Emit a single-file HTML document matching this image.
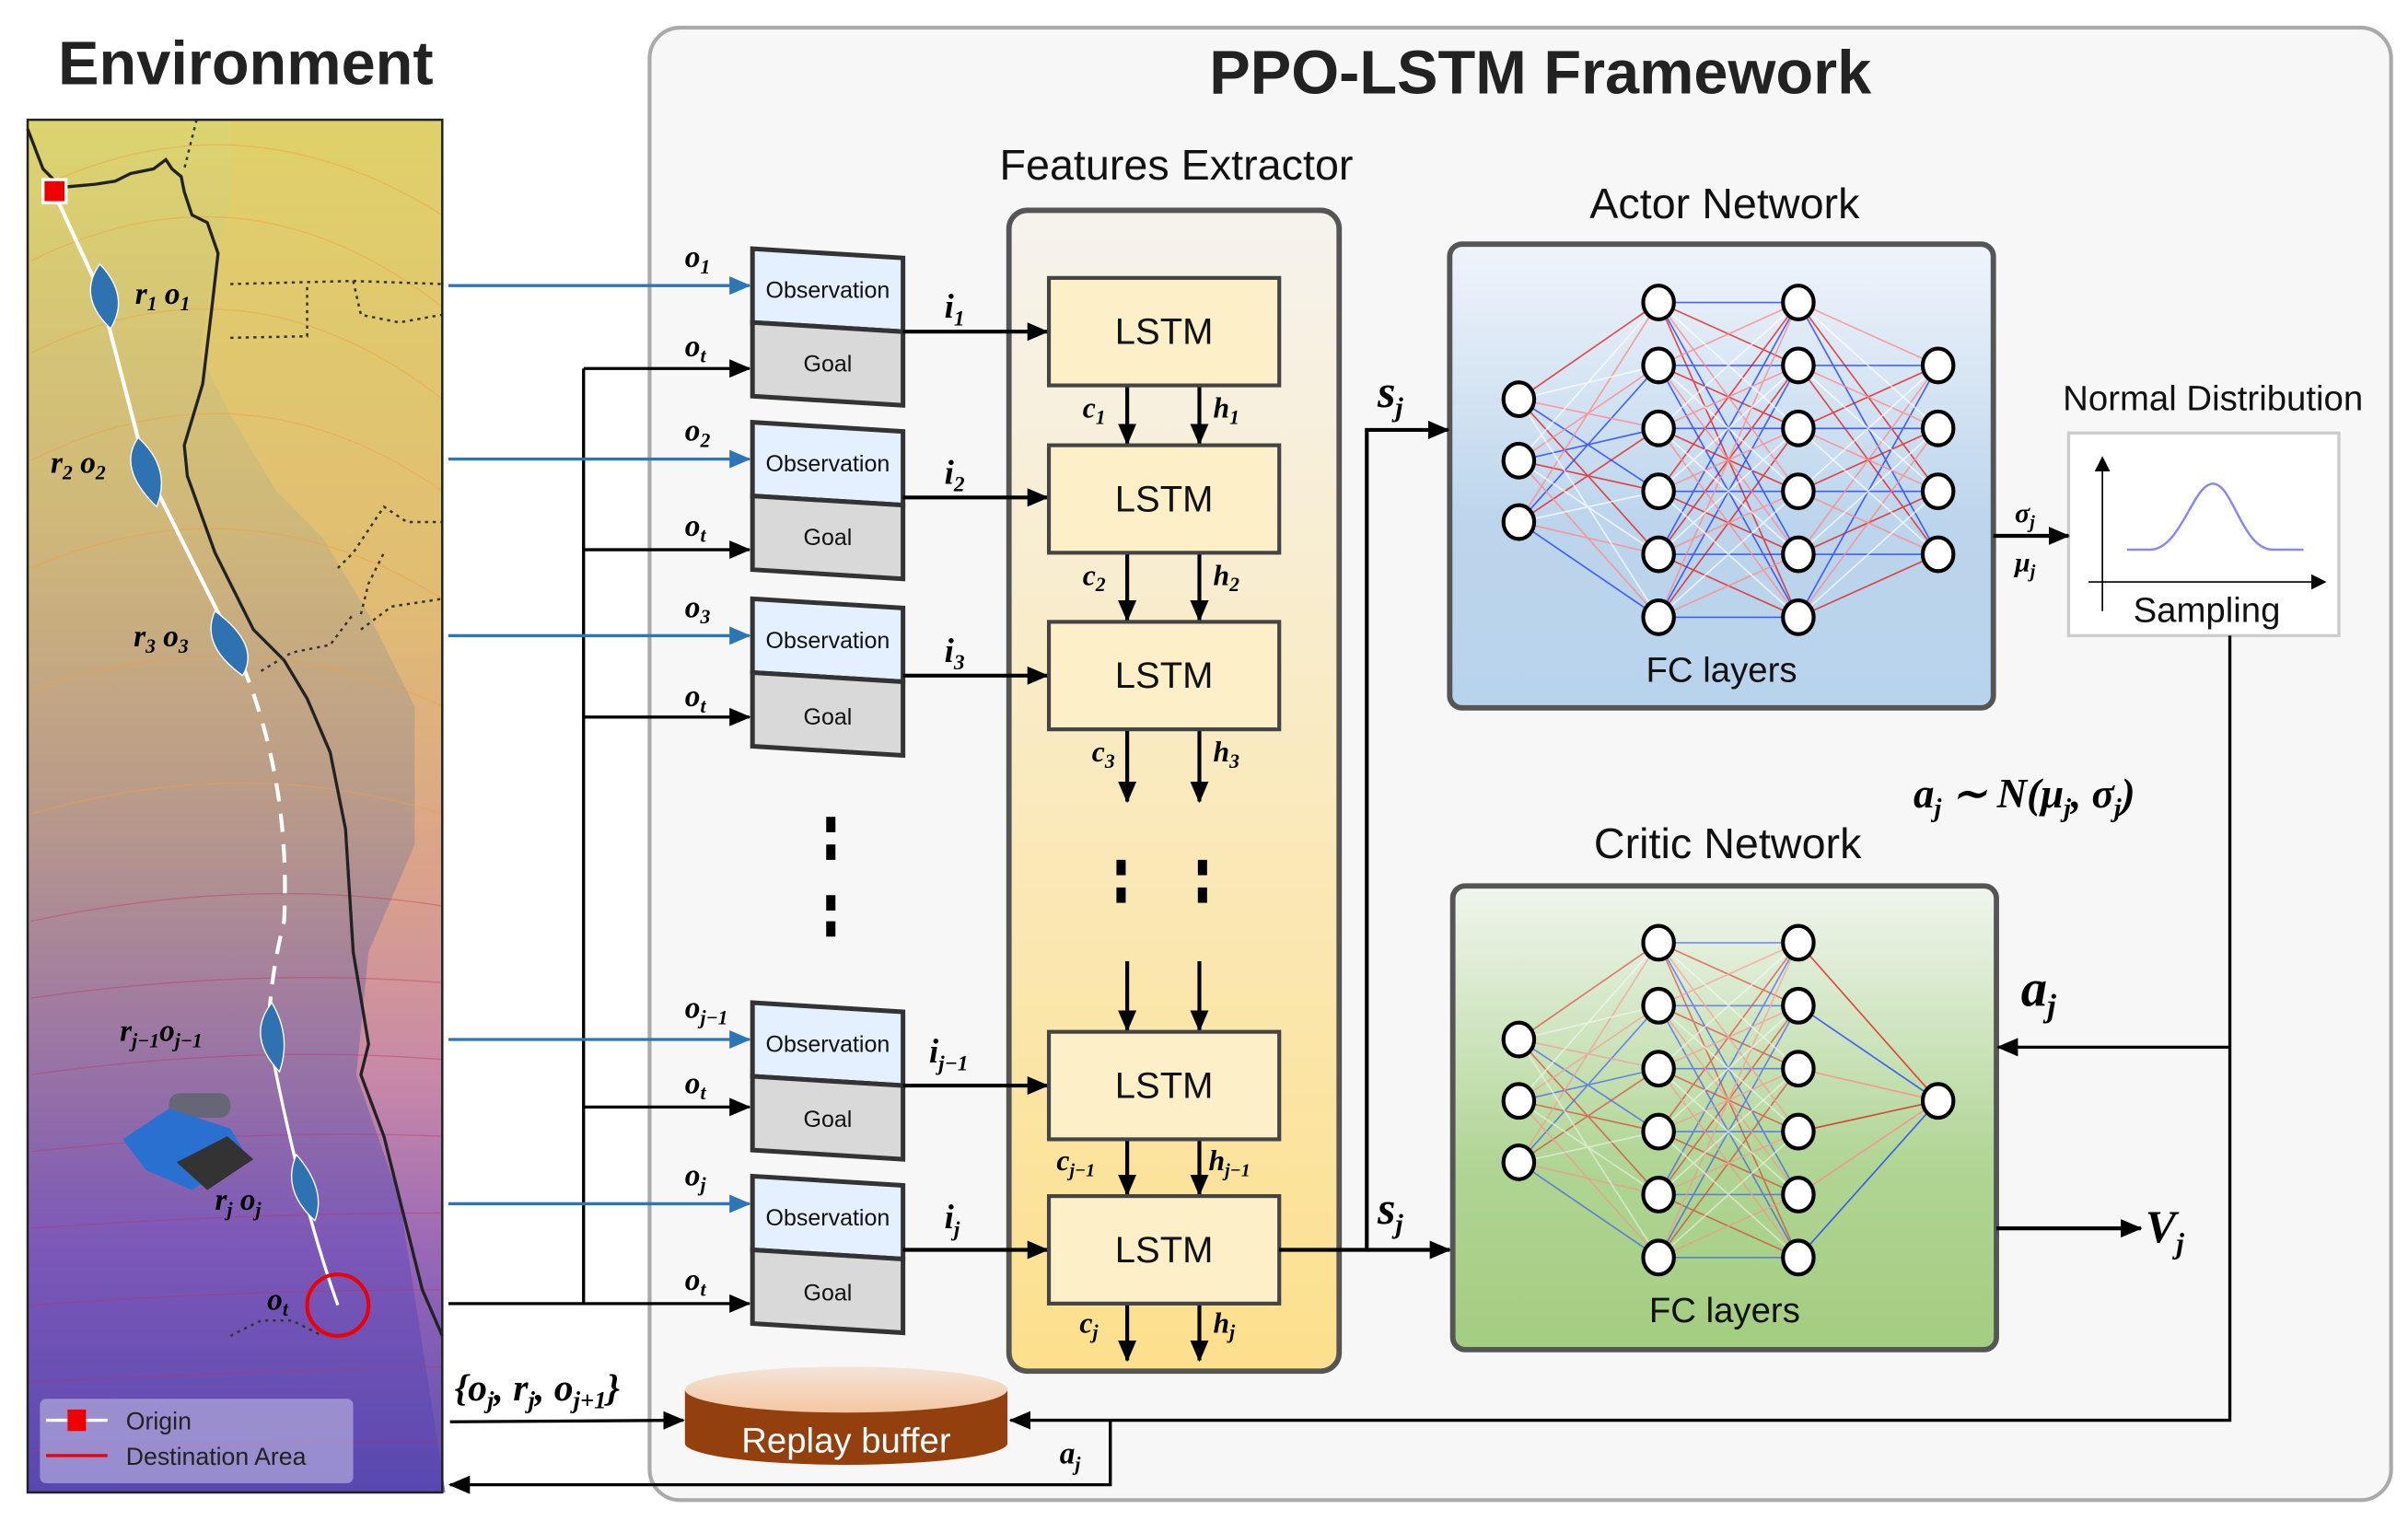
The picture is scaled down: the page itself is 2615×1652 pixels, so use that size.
<!DOCTYPE html>
<html><head><meta charset="utf-8"><style>
html,body{margin:0;padding:0;background:#fff;}
svg{display:block;}
.s{font-family:"Liberation Sans",sans-serif;}
.m{font-family:"Liberation Serif",serif;font-style:italic;font-weight:bold;}
.ob{fill:#e4f0ff;stroke:#333;stroke-width:3;}
.go{fill:#d9d9d9;stroke:#333;stroke-width:3;}
.ls{fill:#fdefc8;stroke:#444;stroke-width:2.5;}
.nd{fill:#fff;stroke:#000;stroke-width:2.5;}
</style></head><body>
<svg width="2615" height="1652" viewBox="0 0 1568 990.6" preserveAspectRatio="none" xmlns="http://www.w3.org/2000/svg">
<defs>
<linearGradient id="map" x1="0" y1="0" x2="0" y2="1">
<stop offset="0" stop-color="#dcd470"/><stop offset="0.3" stop-color="#cfb77a"/><stop offset="0.5" stop-color="#b99a8a"/><stop offset="0.65" stop-color="#a07ba0"/><stop offset="0.82" stop-color="#7c58b8"/><stop offset="1" stop-color="#5848b0"/>
</linearGradient>
<linearGradient id="mapR" x1="0" y1="0" x2="0" y2="1">
<stop offset="0" stop-color="#e0d068"/><stop offset="0.35" stop-color="#e8c070"/><stop offset="0.55" stop-color="#e8a888"/><stop offset="0.7" stop-color="#d890a8"/><stop offset="0.85" stop-color="#9868b8"/><stop offset="1" stop-color="#6050b0"/>
</linearGradient>
<linearGradient id="fe" x1="0" y1="0" x2="0" y2="1"><stop offset="0" stop-color="#f6f3ee"/><stop offset="1" stop-color="#fde08c"/></linearGradient>
<linearGradient id="act" x1="0" y1="0" x2="0" y2="1"><stop offset="0" stop-color="#f0f4fb"/><stop offset="0.6" stop-color="#bcd5ec"/><stop offset="1" stop-color="#b8d3ec"/></linearGradient>
<linearGradient id="cri" x1="0" y1="0" x2="0" y2="1"><stop offset="0" stop-color="#f0f5ee"/><stop offset="0.6" stop-color="#b0d594"/><stop offset="1" stop-color="#a3cd80"/></linearGradient>
<linearGradient id="cyl" x1="0" y1="0" x2="0" y2="1"><stop offset="0" stop-color="#f4e4d8"/><stop offset="1" stop-color="#f5c7a3"/></linearGradient>
<marker id="ak" markerWidth="10" markerHeight="10" refX="9" refY="5" orient="auto" markerUnits="userSpaceOnUse"><path d="M0,0 L10,5 L0,10 Z" fill="#000"/></marker>
<marker id="ab" markerWidth="14" markerHeight="12" refX="13" refY="6" orient="auto" markerUnits="userSpaceOnUse"><path d="M0,0 L14,6 L0,12 Z" fill="#000"/></marker>
<marker id="abl" markerWidth="14" markerHeight="12" refX="13" refY="6" orient="auto" markerUnits="userSpaceOnUse"><path d="M0,0 L14,6 L0,12 Z" fill="#2e75b6"/></marker>
</defs>

<!-- Environment -->
<text x="160" y="55" class="s" font-size="40" font-weight="bold" text-anchor="middle" fill="#222">Environment</text>
<rect x="18" y="78" width="270" height="894" fill="url(#map)"/>
<path d="M150,78 L288,78 L288,972 L290,972 L260,780 L232,700 L240,620 L270,550 L270,460 L240,400 L210,350 L180,320 L150,270 L130,230 L140,170 L150,130 Z" fill="url(#mapR)" opacity="0.75"/>
<g fill="none" stroke="#f0a040" stroke-width="0.8" opacity="0.5">
<path d="M30,120 Q160,60 288,140"/><path d="M20,170 Q160,100 288,200"/><path d="M20,230 Q160,160 288,260"/><path d="M20,300 Q160,230 288,320"/><path d="M20,370 Q160,310 288,390"/><path d="M20,450 Q160,400 288,460"/><path d="M20,530 Q160,490 288,530"/>
</g>
<g fill="none" stroke="#c03060" stroke-width="0.8" opacity="0.4">
<path d="M20,600 Q160,570 288,590"/><path d="M20,650 Q160,630 288,640"/><path d="M20,700 Q160,680 288,690"/><path d="M20,750 Q160,735 288,740"/><path d="M20,800 Q160,790 288,790"/><path d="M20,850 Q160,840 288,840"/><path d="M20,900 Q160,893 288,890"/><path d="M20,945 Q160,940 288,938"/>
</g>
<path d="M18,84 L28,110 L40,122 L62,120 L75,118 L85,113 L100,110 L108,104 L112,110 L118,115 L120,125 L125,140 L135,145 L142,165 L138,200 L132,250 L120,290 L122,310 L140,360 L165,410 L185,430 L200,455 L215,490 L225,540 L230,620 L240,680 L235,700 L250,740 L265,800 L275,840 L288,870" fill="none" stroke="#222" stroke-width="2"/>
<g fill="none" stroke="#333" stroke-width="1.5" stroke-dasharray="2,3">
<path d="M128,78 L125,90 L120,110"/><path d="M150,185 L230,183 L288,185"/><path d="M150,220 L200,219 L200,185"/><path d="M230,183 L235,205 L260,210 L288,205"/><path d="M220,370 L230,360 L250,330 L265,340 L288,340"/><path d="M235,400 L240,380 L250,360"/><path d="M235,410 L255,395 L288,390"/><path d="M170,437 L190,425 L215,420 L230,400"/><path d="M150,870 L170,860 L190,860 L210,870"/>
</g>
<path d="M35,125 L65,190 L95,305 L150,415" fill="none" stroke="#fff" stroke-width="2.5"/>
<path d="M150,415 Q190,500 185,600 Q175,640 175,675" fill="none" stroke="#fff" stroke-width="2.5" stroke-dasharray="12,8"/>
<path d="M175,675 Q195,780 220,850" fill="none" stroke="#fff" stroke-width="2"/>
<g fill="#2e72b2" stroke="#fff" stroke-width="0.8">
<path d="M65,172 Q50,193 72,214 Q85,193 65,172 Z"/>
<path d="M90,285 Q76,305 102,330 Q112,305 90,285 Z"/>
<path d="M140,398 Q130,420 158,440 Q170,420 140,398 Z"/>
<path d="M177,653 Q160,675 182,698 Q190,675 177,653 Z"/>
<path d="M193,752 Q183,775 205,795 Q213,775 193,752 Z"/>
</g>
<rect x="28" y="117" width="15" height="15" fill="#e00" stroke="#fff" stroke-width="2"/>
<circle cx="220" cy="850" r="20" fill="none" stroke="#e00" stroke-width="2.5"/>
<g>
<rect x="110" y="712" width="40" height="16" rx="7" fill="#667"/>
<path d="M80,742 L110,722 L150,735 L160,752 L125,775 L95,762 Z" fill="#2a70d0"/>
<path d="M115,757 L148,740 L165,755 L135,775 Z" fill="#333"/>
</g>
<text class="m" font-size="20" x="88" y="198">r<tspan font-size="13" dy="4">1</tspan><tspan dy="-4"> o</tspan><tspan font-size="13" dy="4">1</tspan></text>
<text class="m" font-size="20" x="33" y="308">r<tspan font-size="13" dy="4">2</tspan><tspan dy="-4"> o</tspan><tspan font-size="13" dy="4">2</tspan></text>
<text class="m" font-size="20" x="87" y="421">r<tspan font-size="13" dy="4">3</tspan><tspan dy="-4"> o</tspan><tspan font-size="13" dy="4">3</tspan></text>
<text class="m" font-size="20" x="78" y="678">r<tspan font-size="13" dy="4">j−1</tspan><tspan dy="-4">o</tspan><tspan font-size="13" dy="4">j−1</tspan></text>
<text class="m" font-size="20" x="140" y="788">r<tspan font-size="13" dy="4">j</tspan><tspan dy="-4"> o</tspan><tspan font-size="13" dy="4">j</tspan></text>
<text class="m" font-size="20" x="174" y="853">o<tspan font-size="13" dy="4">t</tspan></text>
<rect x="26" y="911" width="204" height="55" rx="4" fill="#c8c4e8" opacity="0.55"/>
<line x1="30" y1="925" x2="70" y2="925" stroke="#fff" stroke-width="2"/><rect x="44" y="918" width="12" height="14" fill="#e00"/>
<line x1="30" y1="948" x2="70" y2="948" stroke="#e00" stroke-width="2"/>
<text class="s" font-size="16" x="82" y="931" fill="#222">Origin</text>
<text class="s" font-size="16" x="82" y="954" fill="#222">Destination Area</text>
<rect x="18" y="78" width="270" height="894" fill="none" stroke="#222" stroke-width="1.5"/>

<!-- Framework -->
<rect x="423" y="18" width="1134" height="959" rx="20" fill="#f7f7f7" stroke="#aaa" stroke-width="2.5"/>
<text x="1003" y="61" class="s" font-size="40" font-weight="bold" text-anchor="middle" fill="#222">PPO-LSTM Framework</text>
<text x="766" y="117" class="s" font-size="28" text-anchor="middle" fill="#111">Features Extractor</text>
<rect x="657" y="137" width="215" height="756" rx="12" fill="url(#fe)" stroke="#555" stroke-width="3.5"/>

<g stroke="#000" stroke-width="2" fill="none">
<line x1="380" y1="240" x2="380" y2="849"/>
<line x1="292" y1="849" x2="488" y2="849" marker-end="url(#ab)"/>
<line x1="380" y1="240" x2="488" y2="240" marker-end="url(#ab)"/>
<line x1="380" y1="358" x2="488" y2="358" marker-end="url(#ab)"/>
<line x1="380" y1="467" x2="488" y2="467" marker-end="url(#ab)"/>
<line x1="380" y1="721" x2="488" y2="721" marker-end="url(#ab)"/>
</g>
<g stroke="#2e75b6" stroke-width="2" fill="none">
<line x1="292" y1="186" x2="488" y2="186" marker-end="url(#abl)"/>
<line x1="292" y1="299" x2="488" y2="299" marker-end="url(#abl)"/>
<line x1="292" y1="414" x2="488" y2="414" marker-end="url(#abl)"/>
<line x1="292" y1="677" x2="488" y2="677" marker-end="url(#abl)"/>
<line x1="292" y1="784" x2="488" y2="784" marker-end="url(#abl)"/>
</g>

<!-- Observation / Goal -->
<path class="ob" d="M490,162 L588,168 L588,216 L490,210 Z"/><path class="go" d="M490,210 L588,216 L588,264 L490,258 Z"/>
<path class="ob" d="M490,275 L588,281 L588,329 L490,323 Z"/><path class="go" d="M490,323 L588,329 L588,377 L490,371 Z"/>
<path class="ob" d="M490,390 L588,396 L588,444 L490,438 Z"/><path class="go" d="M490,438 L588,444 L588,492 L490,486 Z"/>
<path class="ob" d="M490,653 L588,659 L588,707 L490,701 Z"/><path class="go" d="M490,701 L588,707 L588,755 L490,749 Z"/>
<path class="ob" d="M490,766 L588,772 L588,820 L490,814 Z"/><path class="go" d="M490,814 L588,820 L588,868 L490,862 Z"/>
<g class="s" font-size="15" text-anchor="middle" fill="#111">
<text x="539" y="194">Observation</text><text x="539" y="242">Goal</text>
<text x="539" y="307">Observation</text><text x="539" y="355">Goal</text>
<text x="539" y="422">Observation</text><text x="539" y="472">Goal</text>
<text x="539" y="685">Observation</text><text x="539" y="734">Goal</text>
<text x="539" y="798">Observation</text><text x="539" y="847">Goal</text>
</g>
<g class="m" font-size="20">
<text x="446" y="174">o<tspan font-size="13" dy="4">1</tspan></text><text x="446" y="232">o<tspan font-size="13" dy="4">t</tspan></text>
<text x="446" y="287">o<tspan font-size="13" dy="4">2</tspan></text><text x="446" y="349">o<tspan font-size="13" dy="4">t</tspan></text>
<text x="446" y="402">o<tspan font-size="13" dy="4">3</tspan></text><text x="446" y="460">o<tspan font-size="13" dy="4">t</tspan></text>
<text x="446" y="663">o<tspan font-size="13" dy="4">j−1</tspan></text><text x="446" y="712">o<tspan font-size="13" dy="4">t</tspan></text>
<text x="446" y="772">o<tspan font-size="13" dy="4">j</tspan></text><text x="446" y="840">o<tspan font-size="13" dy="4">t</tspan></text>
</g>

<!-- i arrows -->
<g stroke="#000" stroke-width="2.5" fill="none">
<line x1="588" y1="216" x2="682" y2="216" marker-end="url(#ab)"/>
<line x1="588" y1="324" x2="682" y2="324" marker-end="url(#ab)"/>
<line x1="588" y1="440" x2="682" y2="440" marker-end="url(#ab)"/>
<line x1="588" y1="707" x2="682" y2="707" marker-end="url(#ab)"/>
<line x1="588" y1="814" x2="682" y2="814" marker-end="url(#ab)"/>
<line x1="734" y1="251" x2="734" y2="289" marker-end="url(#ab)"/><line x1="781" y1="251" x2="781" y2="289" marker-end="url(#ab)"/>
<line x1="734" y1="360" x2="734" y2="404" marker-end="url(#ab)"/><line x1="781" y1="360" x2="781" y2="404" marker-end="url(#ab)"/>
<line x1="734" y1="475" x2="734" y2="522" marker-end="url(#ab)"/><line x1="781" y1="475" x2="781" y2="522" marker-end="url(#ab)"/>
<line x1="734" y1="626" x2="734" y2="671" marker-end="url(#ab)"/><line x1="781" y1="626" x2="781" y2="671" marker-end="url(#ab)"/>
<line x1="734" y1="742" x2="734" y2="778" marker-end="url(#ab)"/><line x1="781" y1="742" x2="781" y2="778" marker-end="url(#ab)"/>
<line x1="734" y1="849" x2="734" y2="886" marker-end="url(#ab)"/><line x1="781" y1="849" x2="781" y2="886" marker-end="url(#ab)"/>
</g>
<g class="m" font-size="22">
<text x="615" y="207">i<tspan font-size="14" dy="5">1</tspan></text>
<text x="615" y="315">i<tspan font-size="14" dy="5">2</tspan></text>
<text x="615" y="431">i<tspan font-size="14" dy="5">3</tspan></text>
<text x="605" y="692">i<tspan font-size="14" dy="5">j−1</tspan></text>
<text x="615" y="800">i<tspan font-size="14" dy="5">j</tspan></text>
</g>
<rect class="ls" x="683" y="181" width="150" height="70"/>
<rect class="ls" x="683" y="290" width="150" height="70"/>
<rect class="ls" x="683" y="405" width="150" height="70"/>
<rect class="ls" x="683" y="672" width="150" height="70"/>
<rect class="ls" x="683" y="779" width="150" height="70"/>
<g class="s" font-size="24" text-anchor="middle" fill="#111">
<text x="758" y="224">LSTM</text><text x="758" y="333">LSTM</text><text x="758" y="448">LSTM</text><text x="758" y="715">LSTM</text><text x="758" y="822">LSTM</text>
</g>
<g class="m" font-size="19">
<text x="705" y="272">c<tspan font-size="13" dy="4">1</tspan></text><text x="790" y="272">h<tspan font-size="13" dy="4">1</tspan></text>
<text x="705" y="381">c<tspan font-size="13" dy="4">2</tspan></text><text x="790" y="381">h<tspan font-size="13" dy="4">2</tspan></text>
<text x="711" y="496">c<tspan font-size="13" dy="4">3</tspan></text><text x="790" y="496">h<tspan font-size="13" dy="4">3</tspan></text>
<text x="688" y="762">c<tspan font-size="12" dy="4">j−1</tspan></text><text x="787" y="762">h<tspan font-size="12" dy="4">j−1</tspan></text>
<text x="703" y="868">c<tspan font-size="13" dy="4">j</tspan></text><text x="790" y="868">h<tspan font-size="13" dy="4">j</tspan></text>
</g>
<g fill="#000"><rect x="538" y="532" width="6" height="10"/><rect x="538" y="550" width="6" height="10"/><rect x="538" y="583" width="6" height="10"/><rect x="538" y="600" width="6" height="10"/>
<rect x="727" y="560" width="6" height="10"/><rect x="727" y="578" width="6" height="10"/><rect x="780" y="560" width="6" height="10"/><rect x="780" y="578" width="6" height="10"/></g>

<!-- Actor -->
<text x="1123" y="142" class="s" font-size="28" text-anchor="middle" fill="#111">Actor Network</text>
<rect x="944" y="159" width="354" height="302" rx="8" fill="url(#act)" stroke="#555" stroke-width="3.5"/>
<g id="e01" fill="none" stroke-width="1">
<path stroke="#e02020" stroke-opacity="0.8" d="M989,260L1080,197M989,260L1080,361M989,300L1080,320M989,340L1080,279"/>
<path stroke="#2040ff" stroke-opacity="0.8" d="M989,260L1080,320M989,300L1080,279M989,340L1080,238M989,340L1080,402"/>
<path stroke="#ff8a8a" stroke-opacity="0.8" d="M989,260L1080,279M989,300L1080,238M989,300L1080,402M989,340L1080,197M989,340L1080,361"/>
<path stroke="#ffffff" stroke-opacity="0.7" d="M989,260L1080,238M989,260L1080,402M989,300L1080,197M989,300L1080,361M989,340L1080,320"/>
</g>
<g id="e12" fill="none" stroke-width="1">
<path stroke="#e02020" stroke-opacity="0.8" d="M1080,197L1171,238M1080,197L1171,402M1080,238L1171,279M1080,279L1171,320M1080,320L1171,197M1080,320L1171,361M1080,361L1171,238M1080,361L1171,402M1080,402L1171,279"/>
<path stroke="#2040ff" stroke-opacity="0.8" d="M1080,197L1171,197M1080,197L1171,361M1080,238L1171,238M1080,238L1171,402M1080,279L1171,279M1080,320L1171,320M1080,361L1171,197M1080,361L1171,361M1080,402L1171,238M1080,402L1171,402"/>
<path stroke="#ff8a8a" stroke-opacity="0.8" d="M1080,197L1171,320M1080,238L1171,197M1080,238L1171,361M1080,279L1171,238M1080,279L1171,402M1080,320L1171,279M1080,361L1171,320M1080,402L1171,197M1080,402L1171,361"/>
<path stroke="#ffffff" stroke-opacity="0.7" d="M1080,197L1171,279M1080,238L1171,320M1080,279L1171,197M1080,279L1171,361M1080,320L1171,238M1080,320L1171,402M1080,361L1171,279M1080,402L1171,320"/>
</g>
<g fill="none" stroke-width="1">
<path stroke="#e02020" stroke-opacity="0.8" d="M1171,197L1262,320M1171,238L1262,361M1171,279L1262,238M1171,320L1262,279M1171,361L1262,320M1171,402L1262,361"/>
<path stroke="#2040ff" stroke-opacity="0.8" d="M1171,197L1262,361M1171,238L1262,238M1171,279L1262,279M1171,320L1262,320M1171,361L1262,361M1171,402L1262,238"/>
<path stroke="#ff8a8a" stroke-opacity="0.8" d="M1171,197L1262,238M1171,238L1262,279M1171,279L1262,320M1171,320L1262,361M1171,361L1262,238M1171,402L1262,279"/>
<path stroke="#ffffff" stroke-opacity="0.7" d="M1171,197L1262,279M1171,238L1262,320M1171,279L1262,361M1171,320L1262,238M1171,361L1262,279M1171,402L1262,320"/>
</g>
<g id="n12">
<ellipse class="nd" cx="989" cy="260" rx="10" ry="11"/><ellipse class="nd" cx="989" cy="300" rx="10" ry="11"/><ellipse class="nd" cx="989" cy="340" rx="10" ry="11"/>
<ellipse class="nd" cx="1080" cy="197" rx="10" ry="11"/><ellipse class="nd" cx="1080" cy="238" rx="10" ry="11"/><ellipse class="nd" cx="1080" cy="279" rx="10" ry="11"/><ellipse class="nd" cx="1080" cy="320" rx="10" ry="11"/><ellipse class="nd" cx="1080" cy="361" rx="10" ry="11"/><ellipse class="nd" cx="1080" cy="402" rx="10" ry="11"/>
<ellipse class="nd" cx="1171" cy="197" rx="10" ry="11"/><ellipse class="nd" cx="1171" cy="238" rx="10" ry="11"/><ellipse class="nd" cx="1171" cy="279" rx="10" ry="11"/><ellipse class="nd" cx="1171" cy="320" rx="10" ry="11"/><ellipse class="nd" cx="1171" cy="361" rx="10" ry="11"/><ellipse class="nd" cx="1171" cy="402" rx="10" ry="11"/>
</g>
<ellipse class="nd" cx="1262" cy="238" rx="10" ry="11"/><ellipse class="nd" cx="1262" cy="279" rx="10" ry="11"/><ellipse class="nd" cx="1262" cy="320" rx="10" ry="11"/><ellipse class="nd" cx="1262" cy="361" rx="10" ry="11"/>
<text x="1121" y="444" class="s" font-size="23" text-anchor="middle" fill="#111">FC layers</text>

<!-- Critic -->
<text x="1125" y="559" class="s" font-size="28" text-anchor="middle" fill="#111">Critic Network</text>
<rect x="946" y="577" width="354" height="302" rx="8" fill="url(#cri)" stroke="#555" stroke-width="3.5"/>
<g transform="translate(0,417)" opacity="0.7">
<use href="#e01"/><use href="#e12"/>
</g>
<g fill="none" stroke-width="1" opacity="0.8">
<path stroke="#e02020" d="M1171,614L1262,717M1171,737L1262,717"/>
<path stroke="#2040ff" d="M1171,655L1262,717M1171,819L1262,717"/>
<path stroke="#ff8a8a" d="M1171,696L1262,717M1171,778L1262,717"/>
</g>
<use href="#n12" transform="translate(0,417)"/>
<ellipse class="nd" cx="1262" cy="717" rx="10" ry="11"/>
<text x="1123" y="861" class="s" font-size="23" text-anchor="middle" fill="#111">FC layers</text>

<!-- Normal dist -->
<text x="1441" y="267" class="s" font-size="23" text-anchor="middle" fill="#111">Normal Distribution</text>
<rect x="1347" y="282" width="176" height="132" fill="#fff" stroke="#ccc" stroke-width="2"/>
<line x1="1369" y1="398" x2="1369" y2="298" stroke="#000" stroke-width="1" marker-end="url(#ak)"/>
<line x1="1360" y1="379" x2="1514" y2="379" stroke="#000" stroke-width="1" marker-end="url(#ak)"/>
<path d="M1385,358 L1400,358 C1420,358 1428,315 1441,315 C1454,315 1460,358 1480,358 L1500,358" fill="none" stroke="#8888ee" stroke-width="1.5"/>
<text x="1437" y="405" class="s" font-size="23" text-anchor="middle" fill="#111">Sampling</text>

<g stroke="#000" stroke-width="2.5" fill="none">
<line x1="1298" y1="349" x2="1347" y2="349" marker-end="url(#ab)"/>
<polyline points="833,814 890,814 890,280 943,280" marker-end="url(#ab)"/>
<line x1="890" y1="814" x2="944" y2="814" marker-end="url(#ab)"/>
<line x1="1300" y1="800" x2="1394" y2="800" marker-end="url(#ab)"/>
</g>
<g stroke="#000" stroke-width="2" fill="none">
<polyline points="1452,414 1452,925 658,925" marker-end="url(#ab)"/>
<line x1="1452" y1="682" x2="1301" y2="682" marker-end="url(#ab)"/>
<polyline points="723,925 723,967 293,967" marker-end="url(#ab)"/>
<line x1="293" y1="926" x2="445" y2="925" marker-end="url(#ab)"/>
</g>
<text class="m" font-size="30" x="897" y="265">s<tspan font-size="18" dy="6">j</tspan></text>
<text class="m" font-size="30" x="897" y="797">s<tspan font-size="18" dy="6">j</tspan></text>
<text class="m" font-size="18" x="1312" y="340">σ<tspan font-size="12" dy="4">j</tspan></text>
<text class="m" font-size="18" x="1312" y="372">μ<tspan font-size="12" dy="4">j</tspan></text>
<text class="m" font-size="27" x="1246" y="526">a<tspan font-size="17" dy="6">j</tspan><tspan dy="-6"> ∼ N(μ</tspan><tspan font-size="17" dy="6">j</tspan><tspan dy="-6">, σ</tspan><tspan font-size="17" dy="6">j</tspan><tspan dy="-6">)</tspan></text>
<text class="m" font-size="34" x="1316" y="655">a<tspan font-size="21" dy="7">j</tspan></text>
<text class="m" font-size="30" x="1397" y="809">V<tspan font-size="19" dy="7">j</tspan></text>
<text class="m" font-size="20" x="690" y="953">a<tspan font-size="13" dy="5">j</tspan></text>
<text class="m" font-size="25" x="296" y="912">{o<tspan font-size="16" dy="5">j</tspan><tspan dy="-5">, r</tspan><tspan font-size="16" dy="5">j</tspan><tspan dy="-5">, o</tspan><tspan font-size="16" dy="5">j+1</tspan><tspan dy="-5">}</tspan></text>

<!-- Replay buffer -->
<path d="M446,905 L446,940 A105,14 0 0 0 656,940 L656,905 Z" fill="#93400e"/>
<ellipse cx="551" cy="905" rx="105" ry="15" fill="url(#cyl)"/>
<text x="551" y="946" class="s" font-size="23" text-anchor="middle" fill="#fff">Replay buffer</text>
</svg>
</body></html>
